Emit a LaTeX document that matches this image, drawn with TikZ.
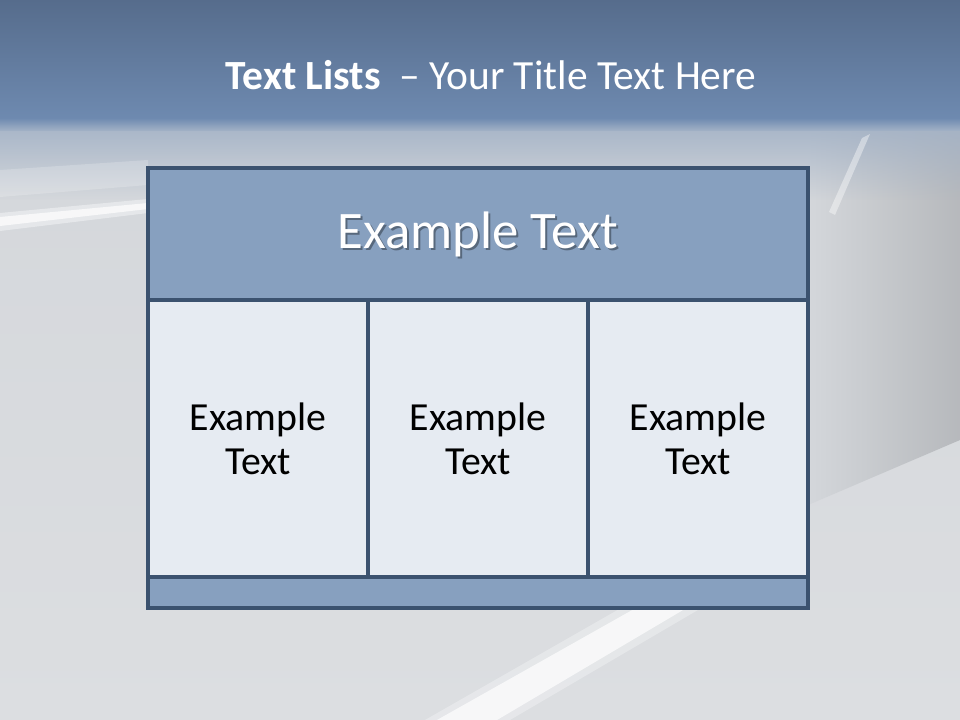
\documentclass[tikz,border=0pt]{standalone}
\usepackage{fontspec}
\setmainfont{Carlito}
\usetikzlibrary{positioning,fadings}
\definecolor{bandtop}{HTML}{566C8C}
\definecolor{bandlow}{HTML}{6E8AB0}
\definecolor{fadeblue}{HTML}{A3B2C6}
\definecolor{slate}{HTML}{D4D7DB}
\definecolor{slatelow}{HTML}{DCDEE1}
\definecolor{headblue}{HTML}{87A0BF}
\definecolor{edgeblue}{HTML}{3B526F}
\definecolor{cellpale}{HTML}{E6EBF2}
\tikzset{
  panel/.style={draw=edgeblue,line width=2.4pt,inner sep=0pt,outer sep=0pt,align=center},
  headpanel/.style={panel,fill=headblue,minimum width=16.5cm,minimum height=3.3cm},
  cellpanel/.style={panel,fill=cellpale,minimum width=5.5cm,minimum height=6.925cm,
    font=\fontsize{28.3}{31.5}\selectfont},
  footpanel/.style={panel,fill=headblue,minimum width=16.5cm,minimum height=0.775cm},
  streak/.style={fill=white,opacity=#1},
  streak/.default=0.7
}
\begin{document}
\begin{tikzpicture}[x=0.025cm,y=-0.025cm]
  \useasboundingbox (0,0) rectangle (960,720);
  % background
  \shade[top color=slate,bottom color=slatelow] (0,118) rectangle (960,720);
  \shade[left color=slate,right color=slate!86!black]
    (808,130)--(960,125)--(960,440)--(808,505)--cycle;
  \fill[fadeblue,path fading=south] (0,118) rectangle (960,200);
  \shade[top color=bandlow,bottom color=fadeblue] (0,118) rectangle (960,131);
  \shade[top color=bandtop,bottom color=bandlow] (0,0) rectangle (960,119);
  \fill[streak=0.2] (0,170)--(148,160)--(148,185)--(0,197)--cycle;
  \fill[streak=0.4] (0,213)--(148,199)--(148,213)--(0,231)--cycle;
  \fill[streak] (0,217)--(148,203)--(148,209)--(0,226)--cycle;
  \fill[streak=0.3] (425,720)--(510,720)--(715,600)--(635,600)--cycle;
  \fill[streak=0.7] (437,720)--(497,720)--(700,600)--(650,600)--cycle;
  \fill[streak=0.4] (862,138)--(870,134)--(835,215)--(829,212)--cycle;
  % title
  \node[text=white,font=\fontsize{29.5}{33}\selectfont] (title) at (491,75)
    {\textbf{Text Lists}\ \ -- Your Title Text Here};
  % table
  \node[headpanel] (head) at (478,234) {};
  \node[text=black,opacity=0.35,font=\fontsize{37.5}{41}\selectfont] (headshadow) at (480,236) {Example Text};
  \node[text=white,font=\fontsize{37.5}{41}\selectfont] (headtext) at (head.center) {Example Text};
  \node[cellpanel] (cellleft) at (258,438.5) {Example\\Text};
  \node[cellpanel,right=0pt of cellleft] (cellmid) {Example\\Text};
  \node[cellpanel,right=0pt of cellmid] (cellright) {Example\\Text};
  \node[footpanel] (foot) at (478,592.5) {};
\end{tikzpicture}
\end{document}
